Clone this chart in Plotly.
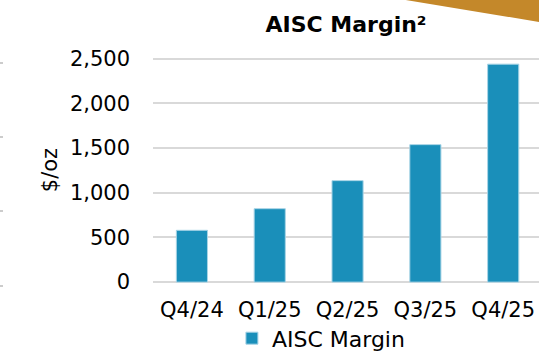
import plotly.graph_objects as go

categories = ["Q4/24", "Q1/25", "Q2/25", "Q3/25", "Q4/25"]
aisc_margin = [580, 822, 1136, 1539, 2440]
y_ticks = [0, 500, 1000, 1500, 2000, 2500]
y_tick_text = ["0", "500", "1,000", "1,500", "2,000", "2,500"]

FONT = "DejaVu Sans"

fig = go.Figure()
fig.add_trace(go.Bar(
    x=categories, y=aisc_margin, name="AISC Margin",
    marker=dict(color="#1A8FBA", line=dict(color="#A8D4E6", width=1)),
))

fig.update_layout(
    width=539, height=353,
    margin=dict(l=153, r=0, t=57, b=70, autoexpand=False),
    paper_bgcolor="white", plot_bgcolor="white",
    bargap=0.6,
    font=dict(family=FONT, color="black", size=21),
    title=dict(text="<b>AISC Margin²</b>", x=0.5, xref="paper", xanchor="center",
               y=1 - 24 / 353, yref="container", yanchor="middle",
               font=dict(family=FONT, size=22, color="black")),
    showlegend=True,
    legend=dict(orientation="h", x=0.435, xref="paper", xanchor="center",
                y=-0.245, yanchor="middle", font=dict(size=22),
                itemwidth=30, bgcolor="rgba(0,0,0,0)"),
    xaxis=dict(range=[-0.5, 4.46], showgrid=False, showline=False,
               ticks="", tickfont=dict(size=21), ticklabelstandoff=12),
    yaxis=dict(range=[-10, 2520], tickvals=y_ticks, ticktext=y_tick_text,
               showgrid=True, gridcolor="#D9D9D9", gridwidth=1.5,
               zeroline=True, zerolinecolor="#D9D9D9", zerolinewidth=1.5,
               showline=False, ticks="", tickfont=dict(size=21),
               ticklabelstandoff=22,
               title=dict(text="$/oz", font=dict(size=21), standoff=6)),
    shapes=[
        dict(type="path", xref="paper", yref="paper",
             path="M 0.627,1.26 L 1.0,1.26 L 1.0,1.155 Z",
             fillcolor="#C4882A", line=dict(width=0), layer="above"),
    ],
)

# small grey marks on the far left edge
for yy in [63, 137, 211, 286]:
    fig.add_shape(type="line", xref="paper", yref="paper",
                  x0=-153 / 386, x1=-150 / 386,
                  y0=(353 - 70 - yy) / 226, y1=(353 - 70 - yy) / 226,
                  line=dict(color="#CCCCCC", width=2))

fig.write_html("out.html")
